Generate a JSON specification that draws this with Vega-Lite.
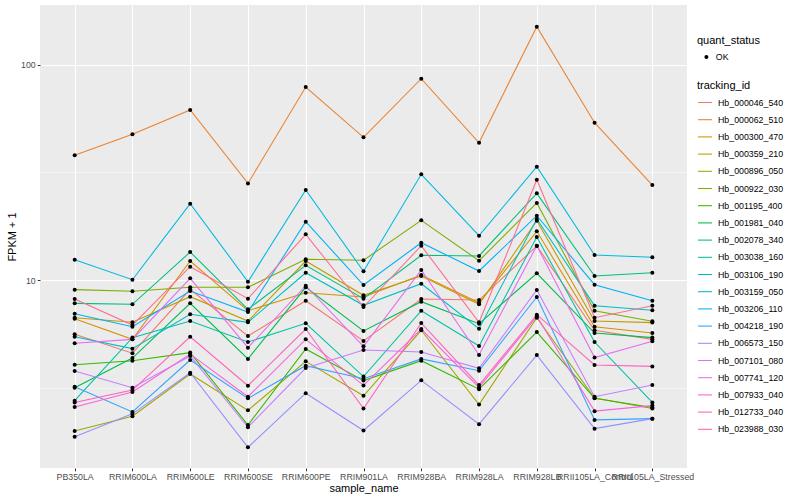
{
  "$schema": "https://vega.github.io/schema/vega-lite/v6.json",
  "width": 647,
  "height": 463,
  "autosize": {"type": "none"},
  "padding": {"left": 40, "top": 5, "right": 113, "bottom": 32},
  "background": "white",
  "config": {
    "view": {"fill": "#EBEBEB", "stroke": null},
    "font": "Liberation Sans",
    "legend": {"padding": 0}
  },
  "data": {"values": [
    {"tracking_id":"Hb_000046_540","sample_name":"PB350LA","fpkm_plus_1":5.60,"quant_status":"OK"},
    {"tracking_id":"Hb_000046_540","sample_name":"RRIM600LA","fpkm_plus_1":4.57,"quant_status":"OK"},
    {"tracking_id":"Hb_000046_540","sample_name":"RRIM600LE","fpkm_plus_1":9.05,"quant_status":"OK"},
    {"tracking_id":"Hb_000046_540","sample_name":"RRIM600SE","fpkm_plus_1":5.49,"quant_status":"OK"},
    {"tracking_id":"Hb_000046_540","sample_name":"RRIM600PE","fpkm_plus_1":8.01,"quant_status":"OK"},
    {"tracking_id":"Hb_000046_540","sample_name":"RRIM901LA","fpkm_plus_1":5.21,"quant_status":"OK"},
    {"tracking_id":"Hb_000046_540","sample_name":"RRIM928BA","fpkm_plus_1":8.16,"quant_status":"OK"},
    {"tracking_id":"Hb_000046_540","sample_name":"RRIM928LA","fpkm_plus_1":8.07,"quant_status":"OK"},
    {"tracking_id":"Hb_000046_540","sample_name":"RRIM928LB","fpkm_plus_1":14.39,"quant_status":"OK"},
    {"tracking_id":"Hb_000046_540","sample_name":"RRII105LA_Control","fpkm_plus_1":5.84,"quant_status":"OK"},
    {"tracking_id":"Hb_000046_540","sample_name":"RRII105LA_Stressed","fpkm_plus_1":5.30,"quant_status":"OK"},
    {"tracking_id":"Hb_000062_510","sample_name":"PB350LA","fpkm_plus_1":37.95,"quant_status":"OK"},
    {"tracking_id":"Hb_000062_510","sample_name":"RRIM600LA","fpkm_plus_1":47.5,"quant_status":"OK"},
    {"tracking_id":"Hb_000062_510","sample_name":"RRIM600LE","fpkm_plus_1":61.6,"quant_status":"OK"},
    {"tracking_id":"Hb_000062_510","sample_name":"RRIM600SE","fpkm_plus_1":28.1,"quant_status":"OK"},
    {"tracking_id":"Hb_000062_510","sample_name":"RRIM600PE","fpkm_plus_1":78.8,"quant_status":"OK"},
    {"tracking_id":"Hb_000062_510","sample_name":"RRIM901LA","fpkm_plus_1":46.0,"quant_status":"OK"},
    {"tracking_id":"Hb_000062_510","sample_name":"RRIM928BA","fpkm_plus_1":86.1,"quant_status":"OK"},
    {"tracking_id":"Hb_000062_510","sample_name":"RRIM928LA","fpkm_plus_1":43.4,"quant_status":"OK"},
    {"tracking_id":"Hb_000062_510","sample_name":"RRIM928LB","fpkm_plus_1":150.2,"quant_status":"OK"},
    {"tracking_id":"Hb_000062_510","sample_name":"RRII105LA_Control","fpkm_plus_1":53.8,"quant_status":"OK"},
    {"tracking_id":"Hb_000062_510","sample_name":"RRII105LA_Stressed","fpkm_plus_1":27.6,"quant_status":"OK"},
    {"tracking_id":"Hb_000300_470","sample_name":"PB350LA","fpkm_plus_1":6.61,"quant_status":"OK"},
    {"tracking_id":"Hb_000300_470","sample_name":"RRIM600LA","fpkm_plus_1":5.30,"quant_status":"OK"},
    {"tracking_id":"Hb_000300_470","sample_name":"RRIM600LE","fpkm_plus_1":12.25,"quant_status":"OK"},
    {"tracking_id":"Hb_000300_470","sample_name":"RRIM600SE","fpkm_plus_1":7.20,"quant_status":"OK"},
    {"tracking_id":"Hb_000300_470","sample_name":"RRIM600PE","fpkm_plus_1":8.73,"quant_status":"OK"},
    {"tracking_id":"Hb_000300_470","sample_name":"RRIM901LA","fpkm_plus_1":8.34,"quant_status":"OK"},
    {"tracking_id":"Hb_000300_470","sample_name":"RRIM928BA","fpkm_plus_1":10.55,"quant_status":"OK"},
    {"tracking_id":"Hb_000300_470","sample_name":"RRIM928LA","fpkm_plus_1":7.84,"quant_status":"OK"},
    {"tracking_id":"Hb_000300_470","sample_name":"RRIM928LB","fpkm_plus_1":16.83,"quant_status":"OK"},
    {"tracking_id":"Hb_000300_470","sample_name":"RRII105LA_Control","fpkm_plus_1":6.07,"quant_status":"OK"},
    {"tracking_id":"Hb_000300_470","sample_name":"RRII105LA_Stressed","fpkm_plus_1":5.67,"quant_status":"OK"},
    {"tracking_id":"Hb_000359_210","sample_name":"PB350LA","fpkm_plus_1":6.68,"quant_status":"OK"},
    {"tracking_id":"Hb_000359_210","sample_name":"RRIM600LA","fpkm_plus_1":6.36,"quant_status":"OK"},
    {"tracking_id":"Hb_000359_210","sample_name":"RRIM600LE","fpkm_plus_1":8.37,"quant_status":"OK"},
    {"tracking_id":"Hb_000359_210","sample_name":"RRIM600SE","fpkm_plus_1":6.45,"quant_status":"OK"},
    {"tracking_id":"Hb_000359_210","sample_name":"RRIM600PE","fpkm_plus_1":12.25,"quant_status":"OK"},
    {"tracking_id":"Hb_000359_210","sample_name":"RRIM901LA","fpkm_plus_1":8.49,"quant_status":"OK"},
    {"tracking_id":"Hb_000359_210","sample_name":"RRIM928BA","fpkm_plus_1":10.44,"quant_status":"OK"},
    {"tracking_id":"Hb_000359_210","sample_name":"RRIM928LA","fpkm_plus_1":7.71,"quant_status":"OK"},
    {"tracking_id":"Hb_000359_210","sample_name":"RRIM928LB","fpkm_plus_1":18.86,"quant_status":"OK"},
    {"tracking_id":"Hb_000359_210","sample_name":"RRII105LA_Control","fpkm_plus_1":6.45,"quant_status":"OK"},
    {"tracking_id":"Hb_000359_210","sample_name":"RRII105LA_Stressed","fpkm_plus_1":6.34,"quant_status":"OK"},
    {"tracking_id":"Hb_000896_050","sample_name":"PB350LA","fpkm_plus_1":1.99,"quant_status":"OK"},
    {"tracking_id":"Hb_000896_050","sample_name":"RRIM600LA","fpkm_plus_1":2.33,"quant_status":"OK"},
    {"tracking_id":"Hb_000896_050","sample_name":"RRIM600LE","fpkm_plus_1":3.66,"quant_status":"OK"},
    {"tracking_id":"Hb_000896_050","sample_name":"RRIM600SE","fpkm_plus_1":2.48,"quant_status":"OK"},
    {"tracking_id":"Hb_000896_050","sample_name":"RRIM600PE","fpkm_plus_1":4.19,"quant_status":"OK"},
    {"tracking_id":"Hb_000896_050","sample_name":"RRIM901LA","fpkm_plus_1":2.90,"quant_status":"OK"},
    {"tracking_id":"Hb_000896_050","sample_name":"RRIM928BA","fpkm_plus_1":5.84,"quant_status":"OK"},
    {"tracking_id":"Hb_000896_050","sample_name":"RRIM928LA","fpkm_plus_1":2.64,"quant_status":"OK"},
    {"tracking_id":"Hb_000896_050","sample_name":"RRIM928LB","fpkm_plus_1":6.68,"quant_status":"OK"},
    {"tracking_id":"Hb_000896_050","sample_name":"RRII105LA_Control","fpkm_plus_1":2.83,"quant_status":"OK"},
    {"tracking_id":"Hb_000896_050","sample_name":"RRII105LA_Stressed","fpkm_plus_1":2.53,"quant_status":"OK"},
    {"tracking_id":"Hb_000922_030","sample_name":"PB350LA","fpkm_plus_1":9.02,"quant_status":"OK"},
    {"tracking_id":"Hb_000922_030","sample_name":"RRIM600LA","fpkm_plus_1":8.86,"quant_status":"OK"},
    {"tracking_id":"Hb_000922_030","sample_name":"RRIM600LE","fpkm_plus_1":9.25,"quant_status":"OK"},
    {"tracking_id":"Hb_000922_030","sample_name":"RRIM600SE","fpkm_plus_1":9.25,"quant_status":"OK"},
    {"tracking_id":"Hb_000922_030","sample_name":"RRIM600PE","fpkm_plus_1":12.48,"quant_status":"OK"},
    {"tracking_id":"Hb_000922_030","sample_name":"RRIM901LA","fpkm_plus_1":12.35,"quant_status":"OK"},
    {"tracking_id":"Hb_000922_030","sample_name":"RRIM928BA","fpkm_plus_1":18.94,"quant_status":"OK"},
    {"tracking_id":"Hb_000922_030","sample_name":"RRIM928LA","fpkm_plus_1":12.29,"quant_status":"OK"},
    {"tracking_id":"Hb_000922_030","sample_name":"RRIM928LB","fpkm_plus_1":22.79,"quant_status":"OK"},
    {"tracking_id":"Hb_000922_030","sample_name":"RRII105LA_Control","fpkm_plus_1":7.20,"quant_status":"OK"},
    {"tracking_id":"Hb_000922_030","sample_name":"RRII105LA_Stressed","fpkm_plus_1":6.43,"quant_status":"OK"},
    {"tracking_id":"Hb_001195_400","sample_name":"PB350LA","fpkm_plus_1":4.04,"quant_status":"OK"},
    {"tracking_id":"Hb_001195_400","sample_name":"RRIM600LA","fpkm_plus_1":4.22,"quant_status":"OK"},
    {"tracking_id":"Hb_001195_400","sample_name":"RRIM600LE","fpkm_plus_1":4.60,"quant_status":"OK"},
    {"tracking_id":"Hb_001195_400","sample_name":"RRIM600SE","fpkm_plus_1":2.12,"quant_status":"OK"},
    {"tracking_id":"Hb_001195_400","sample_name":"RRIM600PE","fpkm_plus_1":4.78,"quant_status":"OK"},
    {"tracking_id":"Hb_001195_400","sample_name":"RRIM901LA","fpkm_plus_1":3.41,"quant_status":"OK"},
    {"tracking_id":"Hb_001195_400","sample_name":"RRIM928BA","fpkm_plus_1":4.22,"quant_status":"OK"},
    {"tracking_id":"Hb_001195_400","sample_name":"RRIM928LA","fpkm_plus_1":3.11,"quant_status":"OK"},
    {"tracking_id":"Hb_001195_400","sample_name":"RRIM928LB","fpkm_plus_1":5.73,"quant_status":"OK"},
    {"tracking_id":"Hb_001195_400","sample_name":"RRII105LA_Control","fpkm_plus_1":2.82,"quant_status":"OK"},
    {"tracking_id":"Hb_001195_400","sample_name":"RRII105LA_Stressed","fpkm_plus_1":2.56,"quant_status":"OK"},
    {"tracking_id":"Hb_001981_040","sample_name":"PB350LA","fpkm_plus_1":3.16,"quant_status":"OK"},
    {"tracking_id":"Hb_001981_040","sample_name":"RRIM600LA","fpkm_plus_1":4.34,"quant_status":"OK"},
    {"tracking_id":"Hb_001981_040","sample_name":"RRIM600LE","fpkm_plus_1":7.79,"quant_status":"OK"},
    {"tracking_id":"Hb_001981_040","sample_name":"RRIM600SE","fpkm_plus_1":4.30,"quant_status":"OK"},
    {"tracking_id":"Hb_001981_040","sample_name":"RRIM600PE","fpkm_plus_1":9.25,"quant_status":"OK"},
    {"tracking_id":"Hb_001981_040","sample_name":"RRIM901LA","fpkm_plus_1":5.80,"quant_status":"OK"},
    {"tracking_id":"Hb_001981_040","sample_name":"RRIM928BA","fpkm_plus_1":7.93,"quant_status":"OK"},
    {"tracking_id":"Hb_001981_040","sample_name":"RRIM928LA","fpkm_plus_1":6.27,"quant_status":"OK"},
    {"tracking_id":"Hb_001981_040","sample_name":"RRIM928LB","fpkm_plus_1":10.74,"quant_status":"OK"},
    {"tracking_id":"Hb_001981_040","sample_name":"RRII105LA_Control","fpkm_plus_1":5.67,"quant_status":"OK"},
    {"tracking_id":"Hb_001981_040","sample_name":"RRII105LA_Stressed","fpkm_plus_1":5.40,"quant_status":"OK"},
    {"tracking_id":"Hb_002078_340","sample_name":"PB350LA","fpkm_plus_1":7.79,"quant_status":"OK"},
    {"tracking_id":"Hb_002078_340","sample_name":"RRIM600LA","fpkm_plus_1":7.71,"quant_status":"OK"},
    {"tracking_id":"Hb_002078_340","sample_name":"RRIM600LE","fpkm_plus_1":13.49,"quant_status":"OK"},
    {"tracking_id":"Hb_002078_340","sample_name":"RRIM600SE","fpkm_plus_1":7.31,"quant_status":"OK"},
    {"tracking_id":"Hb_002078_340","sample_name":"RRIM600PE","fpkm_plus_1":11.70,"quant_status":"OK"},
    {"tracking_id":"Hb_002078_340","sample_name":"RRIM901LA","fpkm_plus_1":8.19,"quant_status":"OK"},
    {"tracking_id":"Hb_002078_340","sample_name":"RRIM928BA","fpkm_plus_1":13.02,"quant_status":"OK"},
    {"tracking_id":"Hb_002078_340","sample_name":"RRIM928LA","fpkm_plus_1":12.93,"quant_status":"OK"},
    {"tracking_id":"Hb_002078_340","sample_name":"RRIM928LB","fpkm_plus_1":25.27,"quant_status":"OK"},
    {"tracking_id":"Hb_002078_340","sample_name":"RRII105LA_Control","fpkm_plus_1":10.44,"quant_status":"OK"},
    {"tracking_id":"Hb_002078_340","sample_name":"RRII105LA_Stressed","fpkm_plus_1":10.81,"quant_status":"OK"},
    {"tracking_id":"Hb_003038_160","sample_name":"PB350LA","fpkm_plus_1":2.75,"quant_status":"OK"},
    {"tracking_id":"Hb_003038_160","sample_name":"RRIM600LA","fpkm_plus_1":5.40,"quant_status":"OK"},
    {"tracking_id":"Hb_003038_160","sample_name":"RRIM600LE","fpkm_plus_1":6.45,"quant_status":"OK"},
    {"tracking_id":"Hb_003038_160","sample_name":"RRIM600SE","fpkm_plus_1":5.15,"quant_status":"OK"},
    {"tracking_id":"Hb_003038_160","sample_name":"RRIM600PE","fpkm_plus_1":6.29,"quant_status":"OK"},
    {"tracking_id":"Hb_003038_160","sample_name":"RRIM901LA","fpkm_plus_1":3.56,"quant_status":"OK"},
    {"tracking_id":"Hb_003038_160","sample_name":"RRIM928BA","fpkm_plus_1":7.20,"quant_status":"OK"},
    {"tracking_id":"Hb_003038_160","sample_name":"RRIM928LA","fpkm_plus_1":4.94,"quant_status":"OK"},
    {"tracking_id":"Hb_003038_160","sample_name":"RRIM928LB","fpkm_plus_1":15.84,"quant_status":"OK"},
    {"tracking_id":"Hb_003038_160","sample_name":"RRII105LA_Control","fpkm_plus_1":5.15,"quant_status":"OK"},
    {"tracking_id":"Hb_003038_160","sample_name":"RRII105LA_Stressed","fpkm_plus_1":2.70,"quant_status":"OK"},
    {"tracking_id":"Hb_003106_190","sample_name":"PB350LA","fpkm_plus_1":5.45,"quant_status":"OK"},
    {"tracking_id":"Hb_003106_190","sample_name":"RRIM600LA","fpkm_plus_1":4.80,"quant_status":"OK"},
    {"tracking_id":"Hb_003106_190","sample_name":"RRIM600LE","fpkm_plus_1":6.93,"quant_status":"OK"},
    {"tracking_id":"Hb_003106_190","sample_name":"RRIM600SE","fpkm_plus_1":6.36,"quant_status":"OK"},
    {"tracking_id":"Hb_003106_190","sample_name":"RRIM600PE","fpkm_plus_1":10.81,"quant_status":"OK"},
    {"tracking_id":"Hb_003106_190","sample_name":"RRIM901LA","fpkm_plus_1":7.63,"quant_status":"OK"},
    {"tracking_id":"Hb_003106_190","sample_name":"RRIM928BA","fpkm_plus_1":9.61,"quant_status":"OK"},
    {"tracking_id":"Hb_003106_190","sample_name":"RRIM928LA","fpkm_plus_1":5.94,"quant_status":"OK"},
    {"tracking_id":"Hb_003106_190","sample_name":"RRIM928LB","fpkm_plus_1":19.20,"quant_status":"OK"},
    {"tracking_id":"Hb_003106_190","sample_name":"RRII105LA_Control","fpkm_plus_1":7.60,"quant_status":"OK"},
    {"tracking_id":"Hb_003106_190","sample_name":"RRII105LA_Stressed","fpkm_plus_1":7.23,"quant_status":"OK"},
    {"tracking_id":"Hb_003159_050","sample_name":"PB350LA","fpkm_plus_1":12.42,"quant_status":"OK"},
    {"tracking_id":"Hb_003159_050","sample_name":"RRIM600LA","fpkm_plus_1":10.03,"quant_status":"OK"},
    {"tracking_id":"Hb_003159_050","sample_name":"RRIM600LE","fpkm_plus_1":22.62,"quant_status":"OK"},
    {"tracking_id":"Hb_003159_050","sample_name":"RRIM600SE","fpkm_plus_1":9.82,"quant_status":"OK"},
    {"tracking_id":"Hb_003159_050","sample_name":"RRIM600PE","fpkm_plus_1":26.18,"quant_status":"OK"},
    {"tracking_id":"Hb_003159_050","sample_name":"RRIM901LA","fpkm_plus_1":10.98,"quant_status":"OK"},
    {"tracking_id":"Hb_003159_050","sample_name":"RRIM928BA","fpkm_plus_1":30.98,"quant_status":"OK"},
    {"tracking_id":"Hb_003159_050","sample_name":"RRIM928LA","fpkm_plus_1":16.06,"quant_status":"OK"},
    {"tracking_id":"Hb_003159_050","sample_name":"RRIM928LB","fpkm_plus_1":33.60,"quant_status":"OK"},
    {"tracking_id":"Hb_003159_050","sample_name":"RRII105LA_Control","fpkm_plus_1":13.06,"quant_status":"OK"},
    {"tracking_id":"Hb_003159_050","sample_name":"RRII105LA_Stressed","fpkm_plus_1":12.75,"quant_status":"OK"},
    {"tracking_id":"Hb_003206_110","sample_name":"PB350LA","fpkm_plus_1":6.97,"quant_status":"OK"},
    {"tracking_id":"Hb_003206_110","sample_name":"RRIM600LA","fpkm_plus_1":6.07,"quant_status":"OK"},
    {"tracking_id":"Hb_003206_110","sample_name":"RRIM600LE","fpkm_plus_1":8.89,"quant_status":"OK"},
    {"tracking_id":"Hb_003206_110","sample_name":"RRIM600SE","fpkm_plus_1":7.10,"quant_status":"OK"},
    {"tracking_id":"Hb_003206_110","sample_name":"RRIM600PE","fpkm_plus_1":18.65,"quant_status":"OK"},
    {"tracking_id":"Hb_003206_110","sample_name":"RRIM901LA","fpkm_plus_1":9.48,"quant_status":"OK"},
    {"tracking_id":"Hb_003206_110","sample_name":"RRIM928BA","fpkm_plus_1":14.90,"quant_status":"OK"},
    {"tracking_id":"Hb_003206_110","sample_name":"RRIM928LA","fpkm_plus_1":11.01,"quant_status":"OK"},
    {"tracking_id":"Hb_003206_110","sample_name":"RRIM928LB","fpkm_plus_1":19.89,"quant_status":"OK"},
    {"tracking_id":"Hb_003206_110","sample_name":"RRII105LA_Control","fpkm_plus_1":9.51,"quant_status":"OK"},
    {"tracking_id":"Hb_003206_110","sample_name":"RRII105LA_Stressed","fpkm_plus_1":8.01,"quant_status":"OK"},
    {"tracking_id":"Hb_004218_190","sample_name":"PB350LA","fpkm_plus_1":3.19,"quant_status":"OK"},
    {"tracking_id":"Hb_004218_190","sample_name":"RRIM600LA","fpkm_plus_1":2.44,"quant_status":"OK"},
    {"tracking_id":"Hb_004218_190","sample_name":"RRIM600LE","fpkm_plus_1":4.25,"quant_status":"OK"},
    {"tracking_id":"Hb_004218_190","sample_name":"RRIM600SE","fpkm_plus_1":2.82,"quant_status":"OK"},
    {"tracking_id":"Hb_004218_190","sample_name":"RRIM600PE","fpkm_plus_1":4.00,"quant_status":"OK"},
    {"tracking_id":"Hb_004218_190","sample_name":"RRIM901LA","fpkm_plus_1":3.48,"quant_status":"OK"},
    {"tracking_id":"Hb_004218_190","sample_name":"RRIM928BA","fpkm_plus_1":4.30,"quant_status":"OK"},
    {"tracking_id":"Hb_004218_190","sample_name":"RRIM928LA","fpkm_plus_1":3.79,"quant_status":"OK"},
    {"tracking_id":"Hb_004218_190","sample_name":"RRIM928LB","fpkm_plus_1":8.34,"quant_status":"OK"},
    {"tracking_id":"Hb_004218_190","sample_name":"RRII105LA_Control","fpkm_plus_1":2.24,"quant_status":"OK"},
    {"tracking_id":"Hb_004218_190","sample_name":"RRII105LA_Stressed","fpkm_plus_1":2.27,"quant_status":"OK"},
    {"tracking_id":"Hb_006573_150","sample_name":"PB350LA","fpkm_plus_1":1.87,"quant_status":"OK"},
    {"tracking_id":"Hb_006573_150","sample_name":"RRIM600LA","fpkm_plus_1":2.39,"quant_status":"OK"},
    {"tracking_id":"Hb_006573_150","sample_name":"RRIM600LE","fpkm_plus_1":3.71,"quant_status":"OK"},
    {"tracking_id":"Hb_006573_150","sample_name":"RRIM600SE","fpkm_plus_1":1.67,"quant_status":"OK"},
    {"tracking_id":"Hb_006573_150","sample_name":"RRIM600PE","fpkm_plus_1":2.98,"quant_status":"OK"},
    {"tracking_id":"Hb_006573_150","sample_name":"RRIM901LA","fpkm_plus_1":2.00,"quant_status":"OK"},
    {"tracking_id":"Hb_006573_150","sample_name":"RRIM928BA","fpkm_plus_1":3.42,"quant_status":"OK"},
    {"tracking_id":"Hb_006573_150","sample_name":"RRIM928LA","fpkm_plus_1":2.14,"quant_status":"OK"},
    {"tracking_id":"Hb_006573_150","sample_name":"RRIM928LB","fpkm_plus_1":4.48,"quant_status":"OK"},
    {"tracking_id":"Hb_006573_150","sample_name":"RRII105LA_Control","fpkm_plus_1":2.04,"quant_status":"OK"},
    {"tracking_id":"Hb_006573_150","sample_name":"RRII105LA_Stressed","fpkm_plus_1":2.27,"quant_status":"OK"},
    {"tracking_id":"Hb_007101_080","sample_name":"PB350LA","fpkm_plus_1":3.78,"quant_status":"OK"},
    {"tracking_id":"Hb_007101_080","sample_name":"RRIM600LA","fpkm_plus_1":3.16,"quant_status":"OK"},
    {"tracking_id":"Hb_007101_080","sample_name":"RRIM600LE","fpkm_plus_1":4.44,"quant_status":"OK"},
    {"tracking_id":"Hb_007101_080","sample_name":"RRIM600SE","fpkm_plus_1":2.07,"quant_status":"OK"},
    {"tracking_id":"Hb_007101_080","sample_name":"RRIM600PE","fpkm_plus_1":3.90,"quant_status":"OK"},
    {"tracking_id":"Hb_007101_080","sample_name":"RRIM901LA","fpkm_plus_1":4.73,"quant_status":"OK"},
    {"tracking_id":"Hb_007101_080","sample_name":"RRIM928BA","fpkm_plus_1":4.63,"quant_status":"OK"},
    {"tracking_id":"Hb_007101_080","sample_name":"RRIM928LA","fpkm_plus_1":3.89,"quant_status":"OK"},
    {"tracking_id":"Hb_007101_080","sample_name":"RRIM928LB","fpkm_plus_1":8.99,"quant_status":"OK"},
    {"tracking_id":"Hb_007101_080","sample_name":"RRII105LA_Control","fpkm_plus_1":2.87,"quant_status":"OK"},
    {"tracking_id":"Hb_007101_080","sample_name":"RRII105LA_Stressed","fpkm_plus_1":3.25,"quant_status":"OK"},
    {"tracking_id":"Hb_007741_120","sample_name":"PB350LA","fpkm_plus_1":5.08,"quant_status":"OK"},
    {"tracking_id":"Hb_007741_120","sample_name":"RRIM600LA","fpkm_plus_1":5.30,"quant_status":"OK"},
    {"tracking_id":"Hb_007741_120","sample_name":"RRIM600LE","fpkm_plus_1":10.18,"quant_status":"OK"},
    {"tracking_id":"Hb_007741_120","sample_name":"RRIM600SE","fpkm_plus_1":4.85,"quant_status":"OK"},
    {"tracking_id":"Hb_007741_120","sample_name":"RRIM600PE","fpkm_plus_1":9.41,"quant_status":"OK"},
    {"tracking_id":"Hb_007741_120","sample_name":"RRIM901LA","fpkm_plus_1":4.92,"quant_status":"OK"},
    {"tracking_id":"Hb_007741_120","sample_name":"RRIM928BA","fpkm_plus_1":11.13,"quant_status":"OK"},
    {"tracking_id":"Hb_007741_120","sample_name":"RRIM928LA","fpkm_plus_1":4.48,"quant_status":"OK"},
    {"tracking_id":"Hb_007741_120","sample_name":"RRIM928LB","fpkm_plus_1":14.43,"quant_status":"OK"},
    {"tracking_id":"Hb_007741_120","sample_name":"RRII105LA_Control","fpkm_plus_1":4.36,"quant_status":"OK"},
    {"tracking_id":"Hb_007741_120","sample_name":"RRII105LA_Stressed","fpkm_plus_1":5.19,"quant_status":"OK"},
    {"tracking_id":"Hb_007933_040","sample_name":"PB350LA","fpkm_plus_1":2.57,"quant_status":"OK"},
    {"tracking_id":"Hb_007933_040","sample_name":"RRIM600LA","fpkm_plus_1":3.02,"quant_status":"OK"},
    {"tracking_id":"Hb_007933_040","sample_name":"RRIM600LE","fpkm_plus_1":4.53,"quant_status":"OK"},
    {"tracking_id":"Hb_007933_040","sample_name":"RRIM600SE","fpkm_plus_1":2.87,"quant_status":"OK"},
    {"tracking_id":"Hb_007933_040","sample_name":"RRIM600PE","fpkm_plus_1":5.30,"quant_status":"OK"},
    {"tracking_id":"Hb_007933_040","sample_name":"RRIM901LA","fpkm_plus_1":3.24,"quant_status":"OK"},
    {"tracking_id":"Hb_007933_040","sample_name":"RRIM928BA","fpkm_plus_1":5.92,"quant_status":"OK"},
    {"tracking_id":"Hb_007933_040","sample_name":"RRIM928LA","fpkm_plus_1":3.17,"quant_status":"OK"},
    {"tracking_id":"Hb_007933_040","sample_name":"RRIM928LB","fpkm_plus_1":6.78,"quant_status":"OK"},
    {"tracking_id":"Hb_007933_040","sample_name":"RRII105LA_Control","fpkm_plus_1":2.46,"quant_status":"OK"},
    {"tracking_id":"Hb_007933_040","sample_name":"RRII105LA_Stressed","fpkm_plus_1":2.61,"quant_status":"OK"},
    {"tracking_id":"Hb_012733_040","sample_name":"PB350LA","fpkm_plus_1":2.70,"quant_status":"OK"},
    {"tracking_id":"Hb_012733_040","sample_name":"RRIM600LA","fpkm_plus_1":3.08,"quant_status":"OK"},
    {"tracking_id":"Hb_012733_040","sample_name":"RRIM600LE","fpkm_plus_1":5.45,"quant_status":"OK"},
    {"tracking_id":"Hb_012733_040","sample_name":"RRIM600SE","fpkm_plus_1":3.23,"quant_status":"OK"},
    {"tracking_id":"Hb_012733_040","sample_name":"RRIM600PE","fpkm_plus_1":5.92,"quant_status":"OK"},
    {"tracking_id":"Hb_012733_040","sample_name":"RRIM901LA","fpkm_plus_1":2.53,"quant_status":"OK"},
    {"tracking_id":"Hb_012733_040","sample_name":"RRIM928BA","fpkm_plus_1":6.31,"quant_status":"OK"},
    {"tracking_id":"Hb_012733_040","sample_name":"RRIM928LA","fpkm_plus_1":3.25,"quant_status":"OK"},
    {"tracking_id":"Hb_012733_040","sample_name":"RRIM928LB","fpkm_plus_1":6.90,"quant_status":"OK"},
    {"tracking_id":"Hb_012733_040","sample_name":"RRII105LA_Control","fpkm_plus_1":4.03,"quant_status":"OK"},
    {"tracking_id":"Hb_012733_040","sample_name":"RRII105LA_Stressed","fpkm_plus_1":3.97,"quant_status":"OK"},
    {"tracking_id":"Hb_023988_030","sample_name":"PB350LA","fpkm_plus_1":8.16,"quant_status":"OK"},
    {"tracking_id":"Hb_023988_030","sample_name":"RRIM600LA","fpkm_plus_1":6.18,"quant_status":"OK"},
    {"tracking_id":"Hb_023988_030","sample_name":"RRIM600LE","fpkm_plus_1":11.53,"quant_status":"OK"},
    {"tracking_id":"Hb_023988_030","sample_name":"RRIM600SE","fpkm_plus_1":8.19,"quant_status":"OK"},
    {"tracking_id":"Hb_023988_030","sample_name":"RRIM600PE","fpkm_plus_1":16.30,"quant_status":"OK"},
    {"tracking_id":"Hb_023988_030","sample_name":"RRIM901LA","fpkm_plus_1":7.49,"quant_status":"OK"},
    {"tracking_id":"Hb_023988_030","sample_name":"RRIM928BA","fpkm_plus_1":14.43,"quant_status":"OK"},
    {"tracking_id":"Hb_023988_030","sample_name":"RRIM928LA","fpkm_plus_1":6.36,"quant_status":"OK"},
    {"tracking_id":"Hb_023988_030","sample_name":"RRIM928LB","fpkm_plus_1":29.24,"quant_status":"OK"},
    {"tracking_id":"Hb_023988_030","sample_name":"RRII105LA_Control","fpkm_plus_1":6.68,"quant_status":"OK"},
    {"tracking_id":"Hb_023988_030","sample_name":"RRII105LA_Stressed","fpkm_plus_1":7.60,"quant_status":"OK"}
  ]},
  "encoding": {
    "x": {
      "field": "sample_name", "type": "nominal",
      "sort": ["PB350LA","RRIM600LA","RRIM600LE","RRIM600SE","RRIM600PE","RRIM901LA","RRIM928BA","RRIM928LA","RRIM928LB","RRII105LA_Control","RRII105LA_Stressed"],
      "scale": {"type": "point", "padding": 0.6},
      "axis": {
        "title": "sample_name", "titleFontSize": 11, "titleFontWeight": "normal", "titleColor": "black",
        "titleFont": "Liberation Sans", "titleY": 20, "titleBaseline": "middle",
        "labelAngle": 0, "labelFontSize": 8.8, "labelColor": "#4D4D4D", "labelFont": "Liberation Sans",
        "labelOverlap": false, "labelBound": false, "labelFlush": false, "labelPadding": 2,
        "labelBaseline": "top",
        "tickSize": 2.75, "tickColor": "#333333", "tickWidth": 1,
        "domain": false, "grid": true, "gridColor": "white", "gridWidth": 1.07
      }
    },
    "y": {
      "field": "fpkm_plus_1", "type": "quantitative",
      "scale": {"type": "log", "domain": [1.339, 189.4], "nice": false, "zero": false},
      "axis": {
        "title": "FPKM + 1", "titleFontSize": 11, "titleFontWeight": "normal", "titleColor": "black",
        "titleFont": "Liberation Sans", "titleX": -28, "titleY": 231.5, "titleBaseline": "middle", "titleAlign": "center", "titleAngle": -90,
        "values": [3.16227766, 10, 31.6227766, 100],
        "labelExpr": "(datum.value == 10 || datum.value == 100) ? format(datum.value, 'd') : ''",
        "labelFontSize": 8.8, "labelColor": "#4D4D4D", "labelFont": "Liberation Sans", "labelPadding": 2,
        "tickSize": 2.75, "tickWidth": 1,
        "tickColor": {"condition": {"test": "datum.value == 10 || datum.value == 100", "value": "#333333"}, "value": "transparent"},
        "domain": false, "grid": true, "gridColor": "white",
        "gridWidth": {"condition": {"test": "datum.value == 10 || datum.value == 100", "value": 1.07}, "value": 0.53}
      }
    }
  },
  "layer": [
    {
      "mark": {"type": "line", "strokeWidth": 1.07},
      "encoding": {
        "color": {
          "field": "tracking_id", "type": "nominal",
          "scale": {
            "domain": ["Hb_000046_540","Hb_000062_510","Hb_000300_470","Hb_000359_210","Hb_000896_050","Hb_000922_030","Hb_001195_400","Hb_001981_040","Hb_002078_340","Hb_003038_160","Hb_003106_190","Hb_003159_050","Hb_003206_110","Hb_004218_190","Hb_006573_150","Hb_007101_080","Hb_007741_120","Hb_007933_040","Hb_012733_040","Hb_023988_030"],
            "range": ["#F8766D","#EA8331","#D89000","#C09B00","#A3A500","#7CAE00","#39B600","#00BB4E","#00BF7D","#00C1A3","#00BFC4","#00BAE0","#00B0F6","#35A2FF","#9590FF","#C77CFF","#E76BF3","#FA62DB","#FF62BC","#FF6C91"]
          },
          "legend": {
            "title": "tracking_id", "orient": "none", "legendX": 657, "legendY": 74.5,
            "titleFontSize": 11, "titleFontWeight": "normal", "titleColor": "black", "titleFont": "Liberation Sans",
            "titleBaseline": "top", "titlePadding": 4,
            "labelFontSize": 8.8, "labelColor": "black", "labelFont": "Liberation Sans", "labelOffset": 5,
            "symbolType": "stroke", "symbolSize": 196, "symbolStrokeWidth": 1.07, "rowPadding": 4.2,
            "padding": 0
          }
        }
      }
    },
    {
      "mark": {"type": "point", "filled": true, "size": 16, "color": "black", "opacity": 1},
      "encoding": {
        "shape": {
          "field": "quant_status", "type": "nominal",
          "scale": {"range": ["circle"]},
          "legend": {
            "title": "quant_status", "orient": "none", "legendX": 657, "legendY": 29.5,
            "titleFontSize": 11, "titleFontWeight": "normal", "titleColor": "black", "titleFont": "Liberation Sans",
            "titleBaseline": "top", "titlePadding": 7,
            "labelFontSize": 8.8, "labelColor": "black", "labelFont": "Liberation Sans", "labelOffset": 5,
            "symbolSize": 16, "symbolFillColor": "black", "symbolStrokeColor": "black", "symbolOffset": 5,
            "padding": 0
          }
        }
      }
    }
  ]
}
